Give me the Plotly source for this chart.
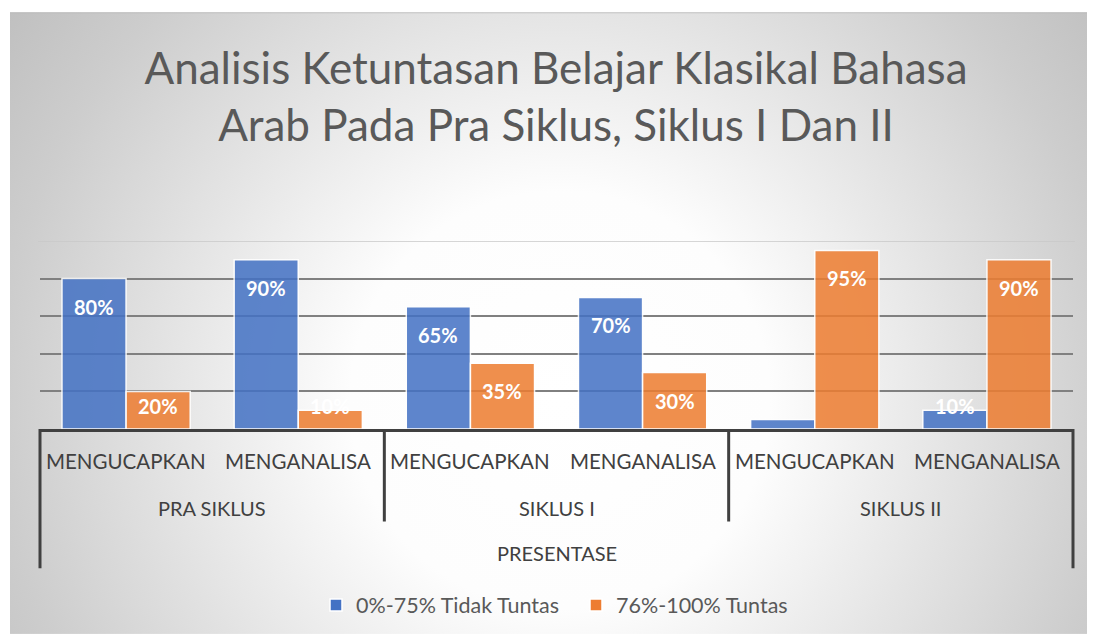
import base64
import plotly.graph_objects as go

# ---------------- data ----------------
outer_label = "PRESENTASE"
phases = ["PRA SIKLUS", "SIKLUS I", "SIKLUS II"]
aspects = ["MENGUCAPKAN", "MENGANALISA"]
series_names = ["0%-75% Tidak Tuntas", "76%-100% Tuntas"]
tidak_tuntas = [80, 90, 65, 70, 5, 10]
tuntas = [20, 10, 35, 30, 95, 90]
grid_vals = [20, 40, 60, 80]
y_max = 100

# ---------------- layout constants ----------------
OFF = 8                       # default page body margin
PAGE_W, PAGE_H = 1095, 636
W, H = PAGE_W - OFF, PAGE_H - OFF
PLOT_L, PLOT_R, PLOT_T, PLOT_B = 40, 1073, 241, 430   # page pixels
ML, MR, MT, MB = PLOT_L - OFF, W - (PLOT_R - OFF), PLOT_T - OFF, H - (PLOT_B - OFF)
PW, PH = W - ML - MR, H - MT - MB
BLUE, ORANGE = "#4472C4", "#ED7D31"
TXT = "#404040"
FONT = "Lato"
BARGAP = 0.255

n_sub = len(aspects)
n_cat = len(phases) * n_sub
xs = list(range(n_cat))
px_per_unit = PH / y_max


def py(page_y):
    """page pixel row -> paper y"""
    return (PLOT_B - page_y) / PH


def px(page_x):
    return (page_x - PLOT_L) / PW


fig = go.Figure()
for name, vals, col in [(series_names[0], tidak_tuntas, BLUE), (series_names[1], tuntas, ORANGE)]:
    fig.add_trace(go.Bar(
        x=xs, y=vals, name=name,
        marker=dict(color=col, opacity=0.86, line=dict(color="white", width=1.5)),
        hoverinfo="skip",
    ))

# data labels
bw = (1 - BARGAP) / 2
annotations = []
for k, vals in enumerate([tidak_tuntas, tuntas]):
    off = -bw / 2 if k == 0 else bw / 2
    for i, v in enumerate(vals):
        h = v * px_per_unit
        if h < 15:
            continue
        if h >= 56:
            ys = -28
        elif h >= 30:
            ys = -15
        else:
            ys = 4
        annotations.append(dict(
            x=i + off, y=v, xref="x", yref="y", text=f"{v}%", showarrow=False,
            yshift=ys, font=dict(family=FONT, size=20, color="white", weight="bold"),
        ))

# category labels (3 levels)
for i, a in enumerate(aspects * len(phases)):
    annotations.append(dict(x=i, y=py(462), xref="x", yref="paper", yanchor="middle", text=a,
                            showarrow=False, font=dict(family=FONT, size=20.5, color=TXT)))
for g, p in enumerate(phases):
    annotations.append(dict(x=g * n_sub + (n_sub - 1) / 2, y=py(509), xref="x", yref="paper",
                            yanchor="middle", text=p, showarrow=False,
                            font=dict(family=FONT, size=20, color=TXT)))
annotations.append(dict(x=(n_cat - 1) / 2, y=py(555), xref="x", yref="paper", yanchor="middle",
                        text=outer_label, showarrow=False, font=dict(family=FONT, size=20, color=TXT)))

# separators
shapes = []
for g in range(len(phases) + 1):
    xp = g * n_sub / n_cat
    bottom = py(570) if g in (0, len(phases)) else py(523)
    shapes.append(dict(type="line", xref="paper", yref="paper", x0=xp, x1=xp, y0=0, y1=bottom,
                       line=dict(color=TXT, width=3)))
# lighter top gridline
shapes.append(dict(type="line", xref="paper", yref="y", x0=px(38), x1=px(1075), y0=y_max, y1=y_max,
                   line=dict(color="#c8c8c8", width=1.5), layer="below"))

# gradient background (page area from x=10, y=11 to the window edge)
BG_X, BG_Y = 10, 11
GW, GH = PAGE_W - BG_X, PAGE_H - BG_Y
svg = (
    f"<svg xmlns='http://www.w3.org/2000/svg' width='{GW}' height='{GH}' viewBox='0 0 {GW} {GH}' "
    f"preserveAspectRatio='none'><defs><radialGradient id='g' gradientUnits='userSpaceOnUse' "
    f"cx='550' cy='390' r='700'><stop offset='0' stop-color='#ffffff'/>"
    f"<stop offset='0.3' stop-color='#fdfdfd'/><stop offset='0.8' stop-color='#cdcdcd'/>"
    f"<stop offset='1' stop-color='#bdbdbd'/></radialGradient></defs>"
    f"<rect x='0' y='0' width='{GW}' height='{GH}' fill='url(#g)'/>"
    f"<line x1='0' y1='0.5' x2='{GW}' y2='0.5' stroke='#b8b8b8' stroke-width='1'/></svg>"
)
src = "data:image/svg+xml;base64," + base64.b64encode(svg.encode()).decode()

fig.update_layout(
    width=W, height=H, autosize=False,
    margin=dict(l=ML, r=MR, t=MT, b=MB),
    paper_bgcolor="white", plot_bgcolor="rgba(0,0,0,0)",
    barmode="group", bargap=BARGAP, bargroupgap=0,
    title=dict(text="Analisis Ketuntasan Belajar Klasikal Bahasa<br>Arab Pada Pra Siklus, Siklus I Dan II",
               x=(556 - OFF) / W, xanchor="center", xref="container", y=1 - (84 - OFF) / H,
               yanchor="middle",
               font=dict(family=FONT, size=44, color="#595959", weight=400)),
    xaxis=dict(range=[-0.5, n_cat - 0.5], showticklabels=False, showgrid=False, zeroline=False,
               showline=True, linecolor=TXT, linewidth=3, ticks=""),
    yaxis=dict(range=[0, y_max], tickvals=grid_vals, showticklabels=False, showgrid=True,
               gridcolor="#808080", gridwidth=1.5, zeroline=False, showline=False),
    legend=dict(orientation="h", x=px(316), xanchor="left", y=py(605), yanchor="middle",
                entrywidth=215, entrywidthmode="pixels",
                font=dict(family=FONT, size=21.5, color="#595959"), bgcolor="rgba(0,0,0,0)"),
    annotations=annotations,
    shapes=shapes,
    images=[dict(source=src, xref="paper", yref="paper", x=px(BG_X), y=py(BG_Y), sizex=GW / PW,
                 sizey=GH / PH, xanchor="left", yanchor="top", sizing="stretch", layer="below")],
    showlegend=True,
)

fig.write_html("out.html", config={"responsive": False},
               post_script="document.body.style.overflow='hidden';")
